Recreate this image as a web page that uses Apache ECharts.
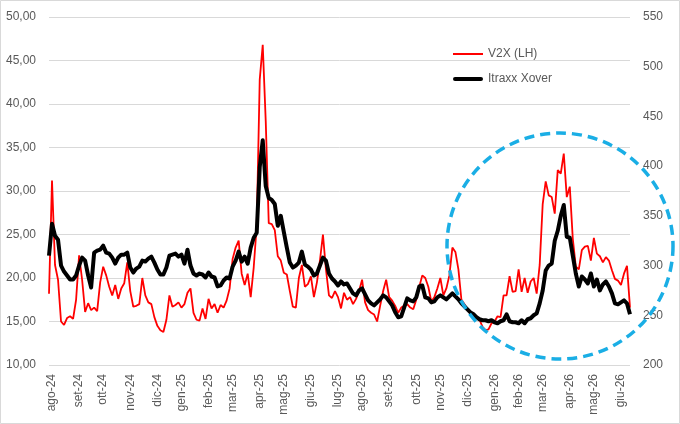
<!DOCTYPE html>
<html>
<head>
<meta charset="utf-8">
<script src="https://cdn.jsdelivr.net/npm/echarts@6/dist/echarts.min.js"></script>
<style>
  html, body { margin: 0; padding: 0; background: #fff; }
  #chart { width: 680px; height: 424px; }
</style>
</head>
<body>
<div id="chart"></div>
<script>
// nomi dei mesi per le etichette dell'asse x
const mesi = ['gen', 'feb', 'mar', 'apr', 'mag', 'giu', 'lug', 'ago', 'set', 'ott', 'nov', 'dic'];

// V2X (asse sinistro), due osservazioni a settimana circa
const v2x = [
  18.2, 31.2, 21.5, 19.8, 15.0, 14.6, 15.4, 15.6, 15.3, 17.5,
  22.6, 19.8, 16.1, 17.1, 16.3, 16.6, 16.2, 19.5, 21.3, 20.3,
  19.0, 18.0, 19.2, 17.6, 18.8, 19.4, 21.8, 18.5, 16.7, 16.8,
  17.0, 20.0, 18.0, 17.2, 17.0, 15.5, 14.5, 14.0, 13.8, 15.2,
  18.0, 16.7, 16.9, 17.2, 16.6, 17.0, 18.3, 18.8, 16.0, 15.2,
  15.1, 16.5, 15.3, 17.6, 16.5, 17.0, 16.0, 16.9, 16.6, 17.4,
  18.8, 22.2, 23.5, 24.3, 20.5, 19.2, 20.5, 17.8, 21.2, 26.0,
  42.8, 46.8, 38.0, 26.3, 26.2, 25.5, 22.5, 22.0, 20.6, 20.4,
  18.5, 16.7, 16.6, 20.0, 21.5, 19.0, 19.3, 20.2, 17.8, 19.5,
  22.0, 25.0, 21.0, 18.0, 17.7, 18.5, 17.8, 16.5, 18.3, 17.5,
  17.8, 17.0, 17.6, 18.5, 19.8, 17.2, 16.3, 16.0, 15.8, 15.0,
  16.8, 18.5, 19.8, 17.8, 17.4, 16.8, 16.0, 16.6, 16.8, 17.0,
  16.6, 16.4, 17.5, 19.0, 20.3, 20.0, 19.0, 17.3, 17.8, 18.8,
  20.0, 18.0, 18.8, 20.3, 23.5, 23.0, 21.0, 17.5, 17.0, 16.4,
  15.9, 15.8, 15.6, 15.2, 14.4, 14.0, 14.1, 14.8, 15.0, 15.6,
  15.5, 18.0, 18.0, 20.2, 18.4, 18.5, 21.0, 18.4, 20.0, 18.3,
  19.6, 20.0, 18.2, 21.5, 28.5, 31.1, 29.5, 29.3, 27.4, 32.4,
  32.0, 34.3, 29.3, 30.5, 24.5, 21.3, 21.0, 23.2, 23.6, 23.7,
  22.0, 24.6, 22.8, 22.5, 21.8, 22.4, 22.0, 20.9, 19.9, 19.7,
  19.2, 20.5, 21.4, 16.6
];

// Itraxx Xover (asse destro)
const xover = [
  310, 342, 330, 326, 300, 294, 290, 286, 286, 290,
  300, 308, 305, 290, 278, 313, 315, 316, 320, 313,
  312, 308, 302, 308, 311, 311, 313, 298, 293, 297,
  299, 305, 304, 307, 309, 303, 296, 291, 291, 298,
  310, 311, 312, 309, 311, 302, 316, 300, 292, 290,
  292, 291, 288, 293, 289, 288, 279, 280, 285, 288,
  287, 299, 305, 314, 304, 309, 302, 318, 328, 333,
  399, 426, 380, 368, 366, 362, 340, 350, 334, 318,
  303, 298, 300, 303, 314, 301, 299, 296, 290, 292,
  300, 308, 305, 292, 287, 284, 280, 284, 281, 282,
  277, 272, 270, 275, 277, 271, 265, 262, 260, 263,
  266, 270, 268, 264, 260, 253, 248, 249, 258, 267,
  265, 264, 268, 279, 280, 268, 267, 263, 264, 268,
  270, 268, 266, 269, 272, 269, 266, 262, 259, 256,
  253, 251, 248, 246, 245, 245, 244, 245, 243, 242,
  244, 245, 251, 244, 243, 243, 242, 245, 242, 246,
  247, 250, 252, 262, 275, 295, 300, 302, 325, 335,
  350, 361, 329, 328, 310, 292, 279, 289, 286, 282,
  292, 279, 286, 275, 281, 284, 279, 272, 262, 261,
  263, 265, 262, 251
];

// date delle osservazioni (passo medio di circa 3,5 giorni dal 29/07/2024)
const giorno = 24 * 3600 * 1000;
const inizio = Date.UTC(2024, 6, 29);
const date = v2x.map((v, i) => {
  const d = new Date(inizio + Math.round(i * 3.54) * giorno);
  return d.toISOString().slice(0, 10);
});

function mese(s) { return s.slice(0, 7); }

const chart = echarts.init(document.getElementById('chart'));

const font = 'Liberation Sans';
const grigio = '#595959';

chart.setOption({
  animation: false,
  backgroundColor: '#ffffff',
  textStyle: { fontFamily: font },
  grid: { left: 49, right: 50, top: 17, bottom: 59 },
  legend: {
    data: [
      { name: 'V2X (LH)', icon: 'path://M0,0L30,0L30,2L0,2Z' },
      { name: 'Itraxx Xover', icon: 'path://M2,0L28,0A2,2,0,0,1,28,4L2,4A2,2,0,0,1,2,0Z' }
    ],
    orient: 'vertical',
    left: 448,
    top: 43,
    itemWidth: 30,
    itemHeight: 14,
    itemGap: 13,
    textStyle: { fontFamily: font, fontSize: 12, color: grigio }
  },
  xAxis: {
    type: 'category',
    data: date,
    boundaryGap: false,
    axisLine: { show: false },
    axisTick: { show: false },
    axisLabel: {
      rotate: 90,
      margin: 9,
      fontFamily: font,
      fontSize: 12,
      color: grigio,
      interval: function (i, v) {
        return i > 0 && mese(date[i]) !== mese(date[i - 1]);
      },
      formatter: function (v) {
        const m = parseInt(v.slice(5, 7), 10) - 1;
        return mesi[m] + '-' + v.slice(2, 4);
      }
    }
  },
  yAxis: [
    {
      type: 'value',
      min: 10,
      max: 50,
      interval: 5,
      axisLine: { show: false },
      axisTick: { show: false },
      splitLine: { lineStyle: { color: '#d9d9d9', width: 1 } },
      axisLabel: {
        margin: 13,
        fontFamily: font,
        fontSize: 12,
        color: grigio,
        formatter: v => v.toFixed(2).replace('.', ',')
      }
    },
    {
      type: 'value',
      min: 200,
      max: 550,
      interval: 50,
      axisLine: { show: false },
      axisTick: { show: false },
      splitLine: { show: false },
      axisLabel: { margin: 13, fontFamily: font, fontSize: 12, color: grigio }
    }
  ],
  series: [
    {
      name: 'V2X (LH)',
      type: 'line',
      yAxisIndex: 0,
      data: v2x,
      symbol: 'none',
      lineStyle: { color: '#ff0000', width: 1.8 },
      itemStyle: { color: '#ff0000' }
    },
    {
      name: 'Itraxx Xover',
      type: 'line',
      yAxisIndex: 1,
      data: xover,
      symbol: 'none',
      lineStyle: { color: '#000000', width: 4, join: 'round' },
      itemStyle: { color: '#000000' }
    }
  ],
  graphic: [
    {
      type: 'rect',
      shape: { x: 0.5, y: 0.5, width: 679, height: 423 },
      style: { fill: 'none', stroke: '#d9d9d9', lineWidth: 1 },
      silent: true
    },
    {
      type: 'circle',
      shape: { cx: 560, cy: 246, r: 113 },
      style: { fill: 'none', stroke: '#1aaee5', lineWidth: 3.5, lineDash: [10, 6] },
      z: 100,
      silent: true
    }
  ]
});
</script>
</body>
</html>
